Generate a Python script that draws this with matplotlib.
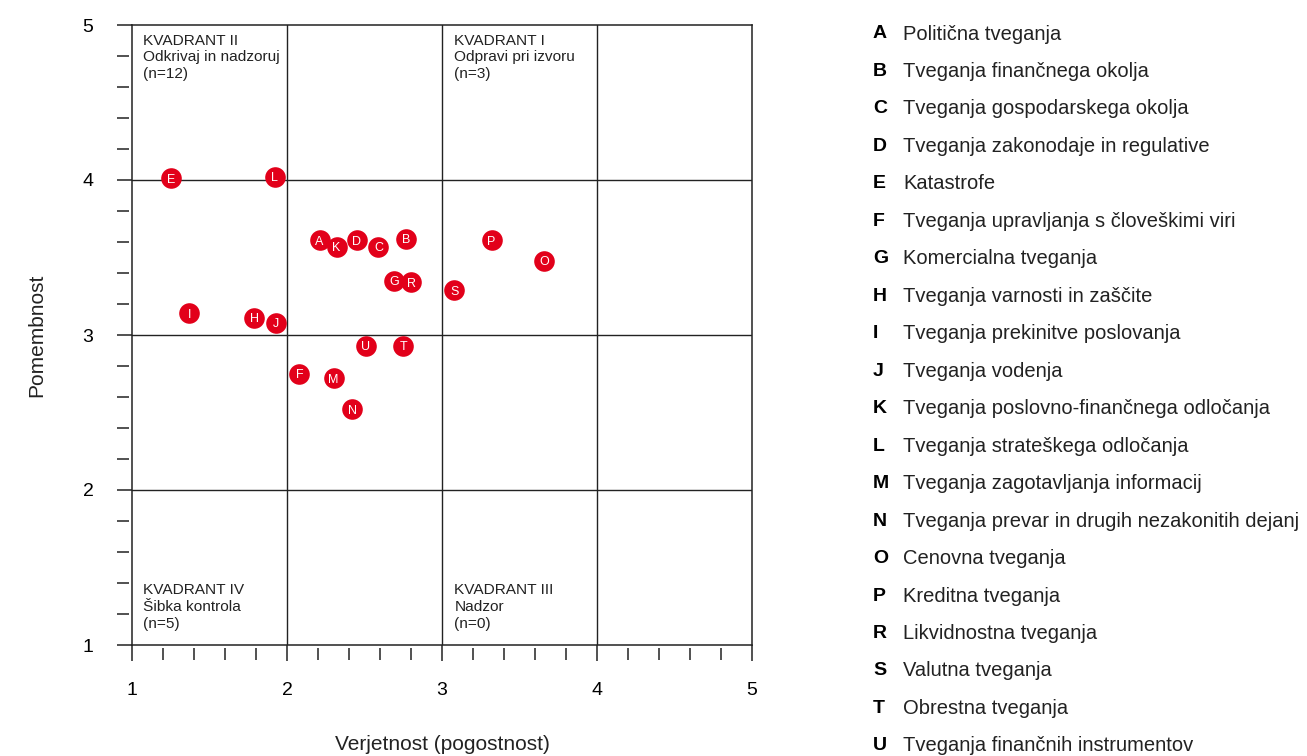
import numpy as np
import matplotlib.pyplot as plt

plt.rcParams['font.family'] = ['Liberation Sans', 'DejaVu Sans']

# Tveganja: oznaka, verjetnost (x), pomembnost (y)
oznake = ["A", "B", "C", "D", "E", "F", "G", "H", "I", "J",
          "K", "L", "M", "N", "O", "P", "R", "S", "T", "U"]
verjetnost = [2.21, 2.77, 2.59, 2.45, 1.25, 2.08, 2.69, 1.79, 1.37, 1.93,
              2.32, 1.92, 2.30, 2.42, 3.66, 3.32, 2.80, 3.08, 2.75, 2.51]
pomembnost = [3.61, 3.62, 3.57, 3.61, 4.01, 2.75, 3.35, 3.11, 3.14, 3.08,
              3.57, 4.02, 2.72, 2.52, 3.48, 3.61, 3.34, 3.29, 2.93, 2.93]
opisi = ["Politična tveganja",
         "Tveganja finančnega okolja",
         "Tveganja gospodarskega okolja",
         "Tveganja zakonodaje in regulative",
         "Katastrofe",
         "Tveganja upravljanja s človeškimi viri",
         "Komercialna tveganja",
         "Tveganja varnosti in zaščite",
         "Tveganja prekinitve poslovanja",
         "Tveganja vodenja",
         "Tveganja poslovno-finančnega odločanja",
         "Tveganja strateškega odločanja",
         "Tveganja zagotavljanja informacij",
         "Tveganja prevar in drugih nezakonitih dejanj",
         "Cenovna tveganja",
         "Kreditna tveganja",
         "Likvidnostna tveganja",
         "Valutna tveganja",
         "Obrestna tveganja",
         "Tveganja finančnih instrumentov"]

kvadranti = ["KVADRANT II\nOdkrivaj in nadzoruj\n(n=12)",
             "KVADRANT I\nOdpravi pri izvoru\n(n=3)",
             "KVADRANT IV\nŠibka kontrola\n(n=5)",
             "KVADRANT III\nNadzor\n(n=0)"]
kvadranti_xy = [(1.07, 4.945), (3.08, 4.945), (1.07, 1.40), (3.08, 1.40)]

crta = "#222222"
rdeca = "#E2001A"

fig = plt.figure(figsize=(13.07, 7.56), dpi=100)
ax = fig.add_axes([132 / 1307, 1 - 645 / 756, 620 / 1307, 620 / 756])
ax.set_xlim(1, 5)
ax.set_ylim(1, 5)

for s in ["left", "bottom", "top", "right"]:
    ax.spines[s].set_color(crta)
    ax.spines[s].set_linewidth(1.1)

# mreža (kvadranti)
for v in [2, 3, 4]:
    ax.axvline(v, color=crta, lw=1.0, zorder=1)
    ax.axhline(v, color=crta, lw=1.0, zorder=1)

ax.set_xticks([1, 2, 3, 4, 5])
ax.set_yticks([1, 2, 3, 4, 5])
ax.tick_params(axis="x", direction="out", length=11.5, width=1.1,
               color=crta, labelsize=14, pad=15)
ax.tick_params(axis="y", direction="out", length=10.8, width=1.1,
               color=crta, labelsize=14, pad=17)

# male oznake (z majhnim razmikom od osi)
male = np.arange(1, 5.01, 0.2)
male = male[np.abs(male - np.round(male)) > 1e-6]
ax.vlines(male, -0.0242, -0.0048, color=crta, lw=1.1,
          transform=ax.get_xaxis_transform(), clip_on=False)
ax.hlines(male, -0.0242, -0.0048, color=crta, lw=1.1,
          transform=ax.get_yaxis_transform(), clip_on=False)

for t, (x, y) in zip(kvadranti, kvadranti_xy):
    ax.text(x, y, t, fontsize=11.1, va="top", ha="left",
            linespacing=1.27, color="#222222")

ax.scatter(verjetnost, pomembnost, s=220, color=rdeca, zorder=3,
           linewidths=0)
for o, x, y in zip(oznake, verjetnost, pomembnost):
    ax.text(x, y, o, color="white", fontsize=9, ha="center",
            va="center_baseline", zorder=4)

fig.text(442 / 1307, 1 - 745 / 756, "Verjetnost (pogostnost)",
         fontsize=15, ha="center", va="center", color="#222222")
fig.text(37 / 1307, 1 - 335 / 756, "Pomembnost", fontsize=15,
         rotation=90, ha="center", va="center", color="#222222")

# legenda
for i, (o, opis) in enumerate(zip(oznake, opisi)):
    yy = 1 - (34 + i * 37.47) / 756
    fig.text(873 / 1307, yy, o, fontsize=14, fontweight="bold",
             ha="left", va="center")
    fig.text(903 / 1307, yy, opis, fontsize=14.5, ha="left",
             va="center", color="#222222")

fig.savefig("out.png", dpi=100)
